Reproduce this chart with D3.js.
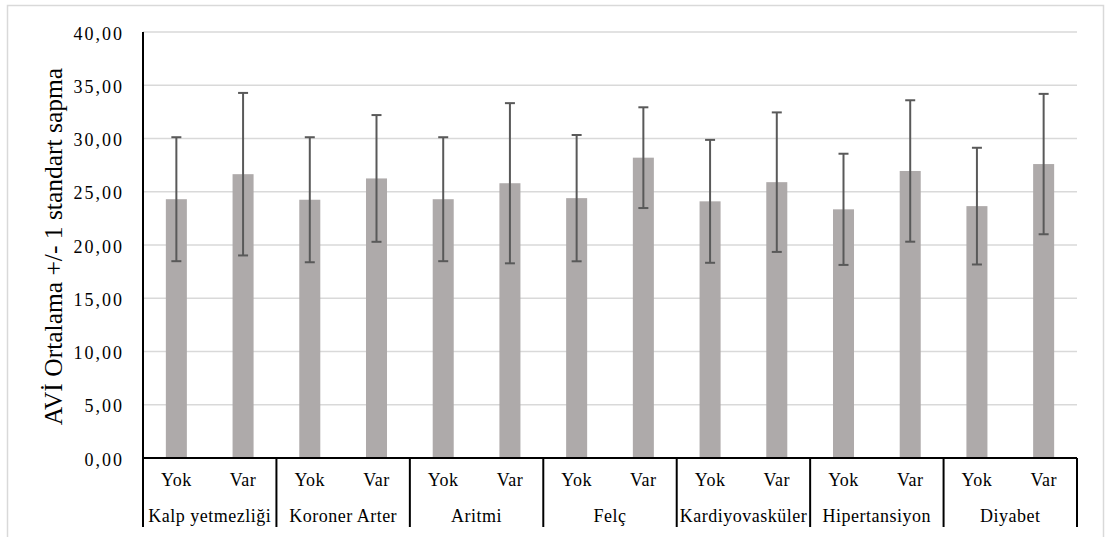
<!DOCTYPE html>
<html>
<head>
<meta charset="utf-8">
<script src="https://cdn.jsdelivr.net/npm/d3@7"></script>
<style>
  body { margin: 0; background: #fff; }
</style>
</head>
<body>
<div id="chart-area"><svg></svg></div>
<script>
const groups = ["Kalp yetmezliği", "Koroner Arter", "Aritmi", "Felç", "Kardiyovasküler", "Hipertansiyon", "Diyabet"];
const subgroups = ["Yok", "Var"];
const yokMeans = [24.3, 24.25, 24.3, 24.4, 24.1, 23.35, 23.65];
const yokSD = [5.82, 5.87, 5.82, 5.93, 5.77, 5.22, 5.48];
const varMeans = [26.65, 26.25, 25.8, 28.2, 25.9, 26.95, 27.6];
const varSD = [7.63, 5.95, 7.52, 4.73, 6.55, 6.64, 6.59];
const yTicks = [0, 5, 10, 15, 20, 25, 30, 35, 40];

const chartSize = { width: 1109, height: 537 };
const plot = { left: 143, right: 1077, top: 32, bottom: 458, labelsBottom: 527 };

const font = "Liberation Serif";
const barColour = "#aeaaaa";
const errColour = "#595959";
const gridColour = "#d9d9d9";

const rows = groups.flatMap((g, i) => [
  { group: g, sub: "Yok", mean: yokMeans[i], sd: yokSD[i] },
  { group: g, sub: "Var", mean: varMeans[i], sd: varSD[i] }
]);

const fmt = d => d3.format(".2f")(d).replace(".", ",");

const main = () => {
  const svg = d3.select("#chart-area svg")
    .attr("width", chartSize.width)
    .attr("height", chartSize.height);

  // outer chart frame
  svg.append("rect")
    .attr("x", 7.5).attr("y", 5.5)
    .attr("width", 1096).attr("height", 560)
    .attr("fill", "none")
    .attr("stroke", gridColour)
    .attr("stroke-width", 1.5);

  const y = d3.scaleLinear().domain([0, 40]).range([plot.bottom, plot.top]);
  const x0 = d3.scaleBand().domain(groups).range([plot.left, plot.right]);
  const x1 = d3.scaleBand().domain(subgroups).range([0, x0.bandwidth()])
    .paddingInner(0.685).paddingOuter(0.3425);

  // gridlines
  svg.append("g").attr("class", "grid")
    .selectAll("line")
    .data(yTicks.filter(d => d > 0))
    .join("line")
    .attr("x1", plot.left).attr("x2", plot.right)
    .attr("y1", d => y(d)).attr("y2", d => y(d))
    .attr("stroke", gridColour)
    .attr("stroke-width", 1.5);

  // y axis labels
  const yAxis = d3.axisLeft(y).tickValues(yTicks).tickFormat(fmt).tickSize(0).tickPadding(19);
  const yg = svg.append("g")
    .attr("class", "y-axis")
    .attr("transform", `translate(${plot.left},0)`)
    .call(yAxis)
    .attr("font-family", font)
    .attr("font-size", 18);
  yg.select(".domain").remove();
  yg.selectAll("text")
    .attr("fill", "#000")
    .attr("dy", "0.4em")
    .attr("letter-spacing", 2);

  svg.append("text")
    .attr("transform", "rotate(-90)")
    .attr("x", -246.5)
    .attr("y", 62)
    .attr("text-anchor", "middle")
    .attr("font-family", font)
    .attr("font-size", 25.5)
    .text("AVİ Ortalama +/- 1 standart sapma");

  // bars
  const bars = svg.append("g").attr("class", "bars");
  bars.selectAll("rect")
    .data(rows)
    .join("rect")
    .attr("x", d => x0(d.group) + x1(d.sub))
    .attr("y", d => y(d.mean))
    .attr("width", x1.bandwidth())
    .attr("height", d => y(0) - y(d.mean))
    .attr("fill", barColour);

  // error bars
  const cx = d => x0(d.group) + x1(d.sub) + x1.bandwidth() / 2;
  const err = svg.append("g").attr("class", "errors")
    .attr("stroke", errColour)
    .attr("stroke-width", 2);
  err.selectAll(".stem")
    .data(rows)
    .join("line")
    .attr("class", "stem")
    .attr("x1", cx).attr("x2", cx)
    .attr("y1", d => y(d.mean + d.sd))
    .attr("y2", d => y(d.mean - d.sd));
  ["hi", "lo"].forEach(k => {
    err.selectAll(`.cap-${k}`)
      .data(rows)
      .join("line")
      .attr("class", `cap-${k}`)
      .attr("x1", d => cx(d) - 5).attr("x2", d => cx(d) + 5)
      .attr("y1", d => y(k === "hi" ? d.mean + d.sd : d.mean - d.sd))
      .attr("y2", d => y(k === "hi" ? d.mean + d.sd : d.mean - d.sd));
  });

  // axes lines
  const axes = svg.append("g").attr("stroke", "#000").attr("stroke-width", 2);
  axes.append("line")
    .attr("x1", plot.left).attr("x2", plot.right)
    .attr("y1", y(0)).attr("y2", y(0));
  axes.selectAll(".divider")
    .data(groups.map(g => x0(g)).concat([plot.right]))
    .join("line")
    .attr("class", "divider")
    .attr("x1", d => d).attr("x2", d => d)
    .attr("y1", (d, i) => i === 0 ? plot.top : y(0))
    .attr("y2", plot.labelsBottom);

  // category labels
  svg.append("g")
    .attr("font-family", font)
    .attr("font-size", 18)
    .selectAll("text")
    .data(rows)
    .join("text")
    .attr("x", cx)
    .attr("y", 486)
    .attr("text-anchor", "middle")
    .attr("letter-spacing", 0.5)
    .text(d => d.sub);

  svg.append("g")
    .attr("font-family", font)
    .attr("font-size", 18)
    .selectAll("text")
    .data(groups)
    .join("text")
    .attr("x", d => x0(d) + x0.bandwidth() / 2)
    .attr("y", 522)
    .attr("text-anchor", "middle")
    .attr("letter-spacing", 0.5)
    .text(d => d);
};

window.onload = main;
</script>
</body>
</html>
